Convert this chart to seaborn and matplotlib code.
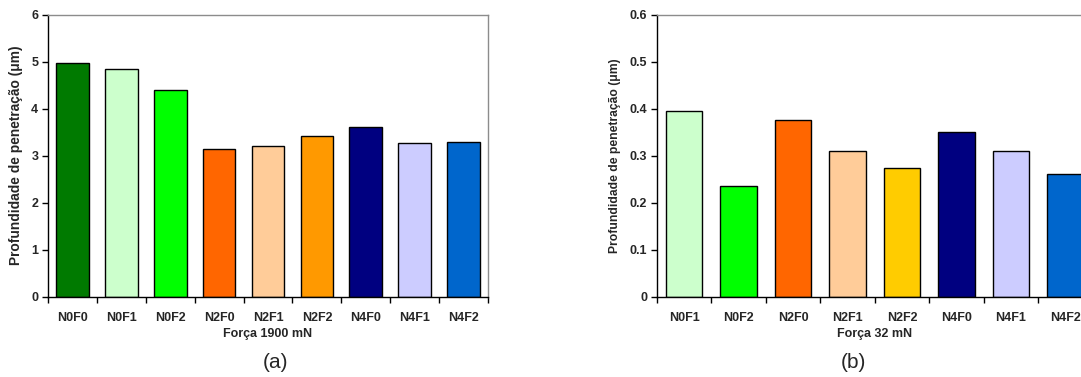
import matplotlib
matplotlib.use("Agg")
import matplotlib.pyplot as plt
import seaborn as sns
import pandas as pd
import numpy as np
from matplotlib.ticker import FixedLocator, NullFormatter

sns.set_theme(style="white")
plt.rcParams['font.family'] = ['Liberation Sans', 'DejaVu Sans']

# Data
cats_a = ["N0F0", "N0F1", "N0F2", "N2F0", "N2F1", "N2F2", "N4F0", "N4F1", "N4F2"]
vals_a = [4.98, 4.85, 4.40, 3.15, 3.21, 3.41, 3.62, 3.28, 3.30]
colors_a = ["#007A00", "#CCFFCC", "#00FF00", "#FF6600", "#FFCC99", "#FF9900", "#000080", "#CCCCFF", "#0066CC"]

cats_b = ["N0F1", "N0F2", "N2F0", "N2F1", "N2F2", "N4F0", "N4F1", "N4F2"]
vals_b = [0.396, 0.235, 0.375, 0.309, 0.274, 0.351, 0.309, 0.261]
colors_b = ["#CCFFCC", "#00FF00", "#FF6600", "#FFCC99", "#FFCC00", "#000080", "#CCCCFF", "#0066CC"]

yticks_a = [0, 1, 2, 3, 4, 5, 6]
yticks_b = [0, 0.1, 0.2, 0.3, 0.4, 0.5, 0.6]
ytick_labels_b = ["0", "0.1", "0.2", "0.3", "0.4", "0.5", "0.6"]

fig = plt.figure(figsize=(10.81, 3.77), dpi=100)
H = 377.0
W = 1081.0
bottom = 1 - 296.7 / H
top = 1 - 14.7 / H
ax_a = fig.add_axes([48 / W, bottom, 440 / W, top - bottom])
ax_b = fig.add_axes([657 / W, bottom, 435.5 / W, top - bottom])


def draw(ax, cats, vals, colors, yticks, ylabels, ymax, xlabel, ylab_size):
    df = pd.DataFrame({"cat": cats, "val": vals})
    sns.barplot(data=df, x="cat", y="val", hue="cat", palette=dict(zip(cats, colors)),
                legend=False, width=0.67, edgecolor="black", linewidth=1.0,
                saturation=1, ax=ax)
    n = len(cats)
    ax.set_xlim(-0.5, n - 0.5)
    ax.set_ylim(0, ymax)
    ax.set_yticks(yticks)
    ax.set_yticklabels(ylabels)
    ax.xaxis.set_minor_locator(FixedLocator(np.arange(-0.5, n, 1.0)))
    ax.xaxis.set_minor_formatter(NullFormatter())
    ax.tick_params(axis="x", which="major", length=0, pad=11, labelsize=9)
    ax.tick_params(axis="x", which="minor", length=4, width=1, color="black", direction="out", bottom=True)
    ax.tick_params(axis="y", which="major", length=4, width=1, color="black", direction="out", left=True, pad=3, labelsize=9)
    for lab in ax.get_xticklabels() + ax.get_yticklabels():
        lab.set_fontweight("bold")
    ax.set_xlabel(xlabel, fontsize=9, fontweight="bold", labelpad=3)
    ax.set_ylabel("Profundidade de penetração (μm)", fontsize=ylab_size, fontweight="bold", labelpad=6)
    for s in ["left", "bottom"]:
        ax.spines[s].set_color("black")
        ax.spines[s].set_linewidth(1.0)
    for s in ["top", "right"]:
        ax.spines[s].set_color("#8C8C8C")
        ax.spines[s].set_linewidth(1.0)
    ax.set_facecolor("white")


draw(ax_a, cats_a, vals_a, colors_a, yticks_a, [str(t) for t in yticks_a], 6, "Força 1900 mN", 9.9)
draw(ax_b, cats_b, vals_b, colors_b, yticks_b, ytick_labels_b, 0.6, "Força 32 mN", 8.7)

fig.text(275 / W, 1 - 362 / H, "(a)", ha="center", va="center", fontsize=15)
fig.text(853 / W, 1 - 362 / H, "(b)", ha="center", va="center", fontsize=15)

fig.savefig("out.png", dpi=100, facecolor="white")
